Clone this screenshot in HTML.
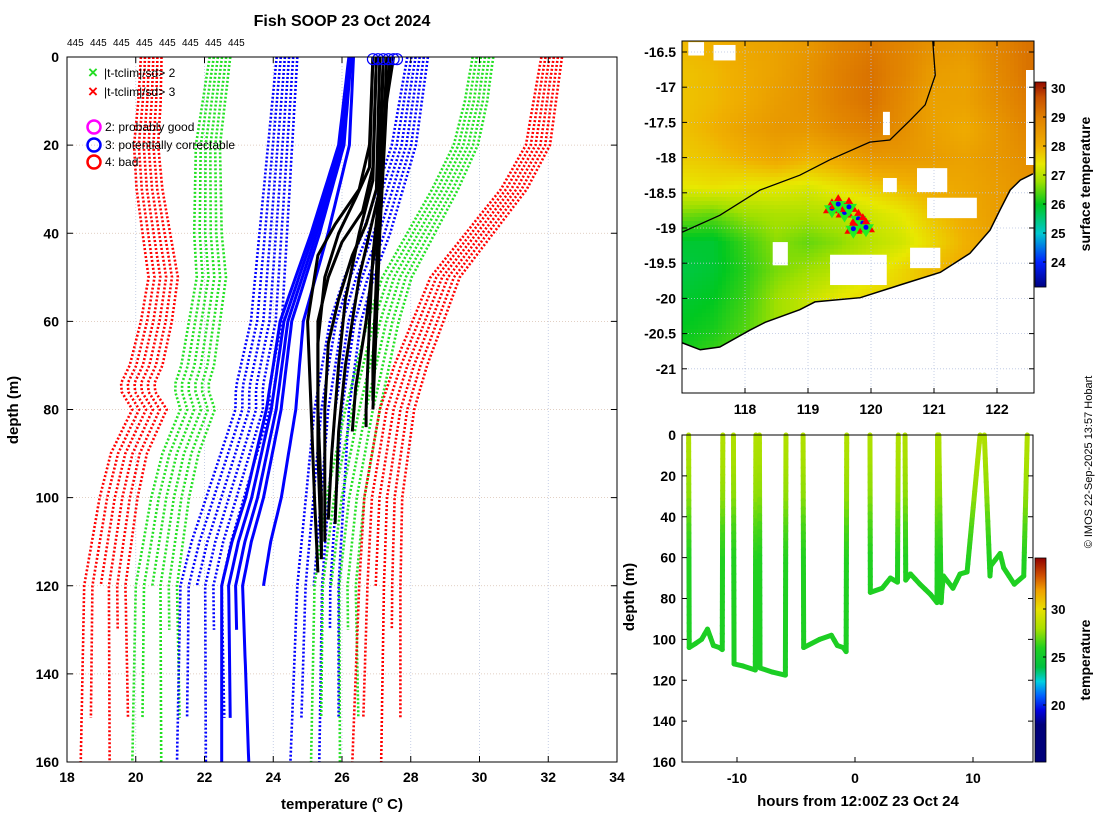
<!DOCTYPE html>
<html><head><meta charset="utf-8"><style>
body{margin:0;background:#fff;}
svg{display:block;font-family:"Liberation Sans","DejaVu Sans",sans-serif;}
</style></head><body>
<svg id="fig" width="1100" height="820" viewBox="0 0 1100 820" xmlns="http://www.w3.org/2000/svg">
<g id="left"></g>
<g id="map"></g>
<g id="track"></g>
<text x="342" y="26" text-anchor="middle" font-size="16" font-weight="bold">Fish SOOP 23 Oct 2024</text>
<text x="342" y="809" text-anchor="middle" font-size="15" font-weight="bold">temperature (<tspan font-size="10" dy="-6">o</tspan><tspan dy="6"> C)</tspan></text>
<text transform="translate(18,410) rotate(-90)" text-anchor="middle" font-size="15" font-weight="bold">depth (m)</text>
<text transform="translate(1092,462) rotate(-90)" text-anchor="middle" font-size="11">© IMOS 22-Sep-2025 13:57 Hobart</text>
<text transform="translate(1090,184) rotate(-90)" text-anchor="middle" font-size="14" font-weight="bold">surface temperature</text>
<text transform="translate(1090,660) rotate(-90)" text-anchor="middle" font-size="14" font-weight="bold">temperature</text>
<text transform="translate(634,597) rotate(-90)" text-anchor="middle" font-size="15" font-weight="bold">depth (m)</text>
<text x="858" y="806" text-anchor="middle" font-size="15" font-weight="bold">hours from 12:00Z 23 Oct 24</text>
</svg>
<script>
// ---------- data: profile chart ----------
const xTicks=[18,20,22,24,26,28,30,32,34];
const yTicks=[0,20,40,60,80,100,120,140,160];
const countLabels=["445","445","445","445","445","445","445","445"];
const redLoD=[0,10,20,30,40,50,60,70,75,80,90,100,110,120,160];
const redLoT=[20.45,20.4,20.3,20.4,20.6,20.8,20.6,20.3,20.0,20.4,19.8,19.5,19.3,19.1,19.1];
const greenLoD=[0,20,40,50,60,70,75,80,90,100,110,120,160];
const greenLoT=[22.45,22.1,22.1,22.2,22.0,21.8,21.6,21.8,21.3,21.0,20.8,20.6,20.6];
const blueLoD=[0,20,40,60,75,80,85,100,110,120,160];
const blueLoT=[24.4,24.2,24.0,23.8,23.4,23.4,23.2,22.6,22.2,21.9,21.9];
const blueHiD=[0,20,40,50,60,70,80,100,120,160];
const blueHiT=[28.2,27.8,27.0,26.5,26.1,25.9,25.7,25.5,25.3,25.2];
const greenHiD=[0,10,20,30,40,50,60,70,80,100,120,160];
const greenHiT=[30.1,29.9,29.6,29.0,28.3,27.6,27.2,26.9,26.6,26.1,25.8,25.8];
const redHiD=[0,10,20,30,40,50,60,70,80,90,100,120,160];
const redHiT=[32.1,31.9,31.7,31.0,30.0,29.0,28.5,28.0,27.6,27.4,27.2,27.1,27.0];
const bundleOffsets=[-0.3,-0.18,-0.06,0.06,0.18,0.3];
const bundleEnds=[160,150,120,160,130,150];
const blueSolidD=[0,20,40,60,80,100,110,120,160];
const blueSolidT=[26.2,25.9,25.1,24.2,23.8,23.2,22.8,22.5,22.5];
const blueSolidOff=[0,0.15,0.3,0.45,0.9];
const blueSolidEnds=[160,150,130,160,120];
const blackProfiles=[
 [[0,26.9],[20,26.8],[30,26.5],[38,25.8],[45,25.3],[60,25.0],[80,25.1],[100,25.2],[117,25.3]],
 [[0,27.0],[25,26.9],[35,26.6],[42,26.0],[50,25.6],[60,25.3],[80,25.3],[100,25.4],[114,25.4]],
 [[0,27.1],[30,27.0],[38,26.7],[45,26.3],[55,25.9],[65,25.6],[80,25.5],[100,25.5],[110,25.5]],
 [[0,27.2],[30,27.1],[40,26.8],[50,26.5],[60,26.3],[70,26.1],[85,25.9],[106,25.8]],
 [[0,27.3],[20,27.2],[40,27.0],[60,26.7],[75,26.4],[85,26.3]],
 [[0,27.4],[30,27.1],[45,26.9],[60,26.8],[80,26.7],[84,26.7]],
 [[0,27.0],[28,26.9],[40,26.5],[55,26.1],[70,25.9],[90,25.7],[105,25.6]],
 [[0,27.5],[10,27.3],[40,27.1],[60,27.0],[80,26.9]],
 [[0,27.2],[20,27.1],[50,27.0],[70,26.9],[78,26.9]],
 [[0,26.9],[25,26.8],[32,26.4],[40,25.9],[50,25.5],[65,25.3],[90,25.3],[112,25.4]]
];
const flagCircleT=[26.9,27.05,27.2,27.35,27.5,27.6];

// ---------- data: map ----------
const mapLons=[117.0,117.5,118.0,118.5,119.0,119.5,120.0,120.5,121.0,121.5,122.0,122.5];
const mapLats=[-16.4,-16.8,-17.2,-17.6,-18.0,-18.4,-18.8,-19.2,-19.6,-20.0,-20.4,-20.8,-21.2];
const sst=[
[27.9,28.0,28.2,28.3,28.5,28.9,29.1,28.9,28.6,28.5,28.9,29.2],
[27.8,27.9,28.1,28.3,28.6,29.0,29.2,28.9,28.4,28.3,28.8,29.2],
[27.8,27.9,28.1,28.4,28.6,29.0,29.2,28.8,28.3,28.3,28.7,29.1],
[27.8,28.0,28.3,28.5,28.5,28.8,29.0,28.7,28.3,28.1,28.5,28.9],
[27.7,27.8,28.0,28.2,28.0,28.2,28.5,28.5,28.4,28.3,28.5,28.7],
[27.4,27.5,27.4,27.4,27.3,27.5,27.7,27.9,28.1,28.2,28.4,28.6],
[26.6,26.5,26.8,26.9,26.9,27.0,27.2,27.4,27.8,28.1,28.4,28.6],
[25.9,25.9,26.3,26.7,26.5,26.7,27.0,27.2,27.6,28.0,28.3,28.5],
[25.8,25.9,26.2,26.6,26.8,27.0,27.3,27.6,27.9,28.1,28.3,28.5],
[25.9,26.0,26.3,26.8,27.1,27.4,27.6,27.7,27.9,28.1,28.3,28.5],
[26.0,26.1,26.4,26.8,27.1,27.3,27.5,27.7,27.9,28.1,28.3,28.5],
[26.1,26.3,26.5,26.8,27.1,27.3,27.5,27.7,27.9,28.1,28.3,28.5],
[26.1,26.3,26.5,26.8,27.1,27.3,27.5,27.7,27.9,28.1,28.3,28.5]];
const coastLon=[117.0,117.29,117.6,118.08,118.32,118.87,119.11,119.83,120.46,121.1,121.57,121.89,122.05,122.21,122.37,122.57];
const coastLat=[-20.63,-20.73,-20.69,-20.45,-20.34,-20.16,-20.05,-19.99,-19.81,-19.63,-19.36,-19.03,-18.74,-18.46,-18.32,-18.23];
const bathLon=[117.0,117.6,118.24,118.87,119.35,119.98,120.3,120.62,120.86,121.02,120.98];
const bathLat=[-19.06,-18.82,-18.46,-18.25,-18.03,-17.78,-17.75,-17.47,-17.25,-16.83,-16.34];
const cloudLon0=[120.19,120.73,120.89,120.19,118.44,119.35,120.62,117.1,117.5];
const cloudLon1=[120.30,121.21,121.68,120.41,118.68,120.25,121.10,117.35,117.85];
const cloudLat0=[-17.35,-18.15,-18.57,-18.29,-19.20,-19.38,-19.28,-16.36,-16.40];
const cloudLat1=[-17.68,-18.49,-18.86,-18.49,-19.53,-19.81,-19.57,-16.55,-16.62];
const stnLon=[119.38,119.48,119.58,119.65,119.8,119.87,119.92,119.72];
const stnLat=[-18.72,-18.66,-18.78,-18.70,-18.87,-18.93,-18.99,-19.01];
const mapXTicks=[118,119,120,121,122];
const mapYTicks=[-16.5,-17,-17.5,-18,-18.5,-19,-19.5,-20,-20.5,-21];
const sstCbTicks=[24,25,26,27,28,29,30];

// ---------- data: depth track ----------
const trackHours=[-14.1,-14.05,-13.5,-13.0,-12.5,-12.0,-11.5,-11.25,-11.2,
 -10.3,-10.25,-9.5,-8.45,-8.4,-8.1,-8.05,-7.0,-5.9,-5.85,
 -4.4,-4.35,-3.0,-2.0,-1.5,-1.0,-0.75,-0.7,
 1.27,1.3,2.3,3.0,3.6,3.67,
 4.24,4.3,4.7,5.5,6.4,6.95,7.0,7.05,7.1,7.3,7.35,7.5,8.3,8.9,9.5,10.6,10.96,
 11.44,11.5,12.3,12.6,13.5,14.3,14.6];
const trackDepths=[0,104,102,100,95,103,104,105,0,
 0,112,113,115,0,0,114,116,117.5,0,
 0,104,100,98,103,104,106,0,
 0,77,75,70,72,0,
 0,71,68,73,78,82,0,22,0,82,77,69,75,68,67,0,
 0,69,64,58,65,73,69,0];
const trackCbTicks=[20,25,30];
const trackXTicks=[-10,0,10];

// ---------- helpers ----------
const NS='http://www.w3.org/2000/svg';
function mk(tag,attrs,parent){const e=document.createElementNS(NS,tag);for(const k in attrs)e.setAttribute(k,attrs[k]);parent.appendChild(e);return e;}
function interp(ds,ts,d){if(d<=ds[0])return ts[0];for(let i=1;i<ds.length;i++){if(d<=ds[i]){const f=(d-ds[i-1])/(ds[i]-ds[i-1]);return ts[i-1]+f*(ts[i]-ts[i-1]);}}return ts[ts.length-1];}
function hex(c){return [parseInt(c.slice(1,3),16),parseInt(c.slice(3,5),16),parseInt(c.slice(5,7),16)];}
function cmap(stops,v){if(v<=stops[0][0])return stops[0][1];for(let i=1;i<stops.length;i++){if(v<=stops[i][0]){const f=(v-stops[i-1][0])/(stops[i][0]-stops[i-1][0]);const a=hex(stops[i-1][1]),b=hex(stops[i][1]);return 'rgb('+a.map((x,j)=>Math.round(x+f*(b[j]-x))).join(',')+')';}}return stops[stops.length-1][1];}

// ---------- left chart ----------
const L=document.getElementById('left');
const X0=67,X1=617,Y0=57,Y1=762;
const xs=t=>X0+(t-18)/16*(X1-X0), ys=d=>Y0+d/160*(Y1-Y0);
xTicks.forEach(t=>{const l=mk('line',{x1:xs(t),x2:xs(t),y1:Y0,y2:Y1,stroke:'#b8c4e0','stroke-width':0.8,'stroke-dasharray':'1,2'},L);
});
yTicks.forEach(d=>{const l=mk('line',{x1:X0,x2:X1,y1:ys(d),y2:ys(d),stroke:'#d8c0b0','stroke-width':0.8,'stroke-dasharray':'1,2'},L);
});
function drawBundle(D,T,color,name){
 bundleOffsets.forEach((o,i)=>{const end=bundleEnds[i];const pts=[];
  for(let d=0;d<=end;d+=2){pts.push(xs(interp(D,T,d)+o*(1+d/120)).toFixed(1)+','+ys(d).toFixed(1));}
  const p=mk('polyline',{points:pts.join(' '),fill:'none',stroke:color,'stroke-width':2.6,'stroke-dasharray':'2,2'},L);
  });
}
drawBundle(redLoD,redLoT,'#ff0000','clim-minus-3sd-line');
drawBundle(greenLoD,greenLoT,'#22e022','clim-minus-2sd-line');
drawBundle(blueLoD,blueLoT,'#0000ff','clim-minus-1sd-line');
drawBundle(blueHiD,blueHiT,'#0000ff','clim-plus-1sd-line');
drawBundle(greenHiD,greenHiT,'#22e022','clim-plus-2sd-line');
drawBundle(redHiD,redHiT,'#ff0000','clim-plus-3sd-line');
blueSolidOff.forEach((o,i)=>{const pts=[];for(let d=0;d<=blueSolidEnds[i];d+=2){pts.push(xs(interp(blueSolidD,blueSolidT,d)+o*(d/100)+o*0.15).toFixed(1)+','+ys(d).toFixed(1));}
 const p=mk('polyline',{points:pts.join(' '),fill:'none',stroke:'#0000ff','stroke-width':3},L);
 });
blackProfiles.forEach(pr=>{const p=mk('polyline',{points:pr.map(q=>xs(q[1]).toFixed(1)+','+ys(q[0]).toFixed(1)).join(' '),fill:'none',stroke:'#000','stroke-width':3,'stroke-linejoin':'round'},L);
 });
flagCircleT.forEach(t=>{const c=mk('circle',{cx:xs(t),cy:ys(0.5),r:5.5,fill:'none',stroke:'#0000ff','stroke-width':1.2},L);
 });
mk('rect',{x:X0,y:Y0,width:X1-X0,height:Y1-Y0,fill:'none',stroke:'#000','stroke-width':1},L);
xTicks.forEach(t=>{mk('line',{x1:xs(t),x2:xs(t),y1:Y1,y2:Y1-6,stroke:'#000'},L);mk('line',{x1:xs(t),x2:xs(t),y1:Y0,y2:Y0+6,stroke:'#000'},L);
 const tx=mk('text',{x:xs(t),y:Y1+20,'text-anchor':'middle','font-size':14,'font-weight':'bold'},L);tx.textContent=t;
 });
yTicks.forEach(d=>{mk('line',{x1:X0,x2:X0+6,y1:ys(d),y2:ys(d),stroke:'#000'},L);mk('line',{x1:X1,x2:X1-6,y1:ys(d),y2:ys(d),stroke:'#000'},L);
 const tx=mk('text',{x:X0-8,y:ys(d)+5,'text-anchor':'end','font-size':14,'font-weight':'bold'},L);tx.textContent=d;
 });
countLabels.forEach((s,i)=>{const tx=mk('text',{x:67+i*23,y:46,'font-size':10},L);tx.textContent=s;
 });
const lg=mk('g',{},L);
[['×','#22dd22','|t-tclim|/sd> 2',73],['×','#ff0000','|t-tclim|/sd> 3',92]].forEach(e=>{
 const m=mk('text',{x:88,y:e[3]+5,'font-size':17,'font-weight':'bold',fill:e[1]},lg);m.textContent=e[0];
 const t=mk('text',{x:104,y:e[3]+4,'font-size':12},lg);t.textContent=e[2];});
[['#ff00ff','2: probably good',127],['#0000ff','3: potentially correctable',145],['#ff0000','4: bad',162]].forEach(e=>{
 mk('circle',{cx:94,cy:e[2],r:6.5,fill:'none',stroke:e[0],'stroke-width':2.5},lg);
 const t=mk('text',{x:105,y:e[2]+4,'font-size':12},lg);t.textContent=e[1];});

// ---------- map ----------
const M=document.getElementById('map');
const MX0=682,MX1=1034,MY0=41,MY1=393;
const mx=lon=>745+(lon-118)*63, my=lat=>52+(-16.5-lat)*70.4;
const sstStops=[[23.1,'#00007a'],[24,'#0020ff'],[25,'#00c8d0'],[26,'#00c820'],[26.8,'#a0e000'],[27.4,'#e8e800'],[28,'#f0b000'],[29,'#e08000'],[29.7,'#c85000'],[30.3,'#8a0000']];
function sstAt(lon,lat){const fi=Math.max(0,Math.min(mapLons.length-1.001,(lon-mapLons[0])/0.5));const fj=Math.max(0,Math.min(mapLats.length-1.001,(mapLats[0]-lat)/0.4));
 const i=Math.floor(fi),j=Math.floor(fj),a=fi-i,b=fj-j;return sst[j][i]*(1-a)*(1-b)+sst[j][i+1]*a*(1-b)+sst[j+1][i]*(1-a)*b+sst[j+1][i+1]*a*b;}
const cell=4;
for(let py=MY0;py<MY1;py+=cell){for(let px=MX0;px<MX1;px+=cell){
 const lon=118+(px+cell/2-745)/63, lat=-16.5-(py+cell/2-52)/70.4;
 const r=mk('rect',{x:px,y:py,width:cell+0.3,height:cell+0.3,fill:cmap(sstStops,sstAt(lon,lat))},M);
 }}
cloudLon0.forEach((l,i)=>{const r=mk('rect',{x:mx(l),y:my(cloudLat0[i]),width:mx(cloudLon1[i])-mx(l),height:my(cloudLat1[i])-my(cloudLat0[i]),fill:'#fff'},M);
 });
let landPts=coastLon.map((l,i)=>mx(l)+','+my(coastLat[i]));landPts.push(MX1+','+my(coastLat[coastLat.length-1]),MX1+','+MY1,MX0+','+MY1);
const land=mk('polygon',{points:landPts.join(' '),fill:'#fff'},M);
mk('rect',{x:1026,y:70,width:8,height:95,fill:'#fff'},M);
mapXTicks.forEach(t=>{mk('line',{x1:mx(t),x2:mx(t),y1:MY0,y2:MY1,stroke:'#b8c4e0','stroke-width':0.8,'stroke-dasharray':'1,2'},M);});
mapYTicks.forEach(t=>{mk('line',{x1:MX0,x2:MX1,y1:my(t),y2:my(t),stroke:'#b8c4e0','stroke-width':0.8,'stroke-dasharray':'1,2'},M);});
const coast=mk('polyline',{points:coastLon.map((l,i)=>mx(l)+','+my(coastLat[i])).join(' '),fill:'none',stroke:'#000','stroke-width':1.5},M);

const bath=mk('polyline',{points:bathLon.map((l,i)=>mx(l)+','+my(bathLat[i])).join(' '),fill:'none',stroke:'#000','stroke-width':1.3},M);

stnLon.forEach((l,i)=>{const x=mx(l),y=my(stnLat[i]);
 const t1=mk('polygon',{points:`${x},${y-10} ${x-9},${y+5} ${x+9},${y+5}`,fill:'#ff0000'},M);
 const t2=mk('polygon',{points:`${x-8},${y-3} ${x+8},${y-3} ${x},${y+10}`,fill:'#22ee22'},M);
 mk('circle',{cx:x,cy:y,r:2.5,fill:'#0000ff'},M);
 });
mk('rect',{x:MX0,y:MY0,width:MX1-MX0,height:MY1-MY0,fill:'none',stroke:'#000'},M);
mapXTicks.forEach(t=>{mk('line',{x1:mx(t),x2:mx(t),y1:MY1,y2:MY1-5,stroke:'#000'},M);mk('line',{x1:mx(t),x2:mx(t),y1:MY0,y2:MY0+5,stroke:'#000'},M);
 const tx=mk('text',{x:mx(t),y:MY1+21,'text-anchor':'middle','font-size':14,'font-weight':'bold'},M);tx.textContent=t;
 });
mapYTicks.forEach(t=>{mk('line',{x1:MX0,x2:MX0+5,y1:my(t),y2:my(t),stroke:'#000'},M);mk('line',{x1:MX1,x2:MX1-5,y1:my(t),y2:my(t),stroke:'#000'},M);
 const tx=mk('text',{x:MX0-6,y:my(t)+5,'text-anchor':'end','font-size':14,'font-weight':'bold'},M);tx.textContent=t;
 });
const CB0=82,CB1=287,cby=v=>88+(30-v)*29;
for(let y=CB0;y<CB1;y+=1){mk('rect',{x:1035,y:y,width:11,height:1.2,fill:cmap(sstStops,30-(y-88)/29)},M);}
mk('rect',{x:1035,y:CB0,width:11,height:CB1-CB0,fill:'none',stroke:'#000','stroke-width':0.8},M);
sstCbTicks.forEach(t=>{mk('line',{x1:1043,x2:1046,y1:cby(t),y2:cby(t),stroke:'#000'},M);
 const tx=mk('text',{x:1051,y:cby(t)+5,'font-size':13,'font-weight':'bold'},M);tx.textContent=t;
 });

// ---------- depth track ----------
const T=document.getElementById('track');
const TX0=682,TX1=1033,TY0=435,TY1=762;
const tx=h=>855+h*11.8, ty=d=>TY0+d*(TY1-TY0)/160;
const trackStops=[[18,'#00007a'],[19.5,'#0000e0'],[21,'#0060ff'],[22.5,'#00d0e0'],[24,'#00c040'],[26,'#20d020'],[28,'#a8e000'],[30,'#e8e000'],[32,'#f0a000'],[33.5,'#d05000'],[35.4,'#900000']];
const tempOfDepthD=[0,30,45,60,120], tempOfDepthT=[28.3,27.6,26.6,26.0,25.7];
for(let i=1;i<trackHours.length;i++){
 if(trackDepths[i]===0&&trackDepths[i-1]===0)continue;
 const n=Math.max(1,Math.ceil(Math.abs(trackDepths[i]-trackDepths[i-1])/4));
 for(let k=0;k<n;k++){const f0=k/n,f1=(k+1)/n;
  const h0=trackHours[i-1]+f0*(trackHours[i]-trackHours[i-1]),h1=trackHours[i-1]+f1*(trackHours[i]-trackHours[i-1]);
  const d0=trackDepths[i-1]+f0*(trackDepths[i]-trackDepths[i-1]),d1=trackDepths[i-1]+f1*(trackDepths[i]-trackDepths[i-1]);
  const s=mk('line',{x1:tx(h0),y1:ty(d0),x2:tx(h1),y2:ty(d1),stroke:cmap(trackStops,interp(tempOfDepthD,tempOfDepthT,(d0+d1)/2)),'stroke-width':5,'stroke-linecap':'round'},T);
  }}
mk('rect',{x:TX0,y:TY0,width:TX1-TX0,height:TY1-TY0,fill:'none',stroke:'#000'},T);
trackXTicks.forEach(t=>{mk('line',{x1:tx(t),x2:tx(t),y1:TY1,y2:TY1-5,stroke:'#000'},T);
 const e=mk('text',{x:tx(t),y:TY1+21,'text-anchor':'middle','font-size':14,'font-weight':'bold'},T);e.textContent=t;
 });
yTicks.forEach(d=>{mk('line',{x1:TX0,x2:TX0+5,y1:ty(d),y2:ty(d),stroke:'#000'},T);mk('line',{x1:TX1,x2:TX1-5,y1:ty(d),y2:ty(d),stroke:'#000'},T);
 const e=mk('text',{x:TX0-6,y:ty(d)+5,'text-anchor':'end','font-size':14,'font-weight':'bold'},T);e.textContent=d;
 });
const TB0=558,TB1=762,tby=v=>705-(v-20)*9.6;
for(let y=TB0;y<TB1;y+=1){mk('rect',{x:1035,y:y,width:11,height:1.2,fill:cmap(trackStops,20+(705-y)/9.6)},T);}
mk('rect',{x:1035,y:TB0,width:11,height:TB1-TB0,fill:'none',stroke:'#000','stroke-width':0.8},T);
trackCbTicks.forEach(t=>{mk('line',{x1:1043,x2:1046,y1:tby(t),y2:tby(t),stroke:'#000'},T);
 const e=mk('text',{x:1051,y:tby(t)+5,'font-size':13,'font-weight':'bold'},T);e.textContent=t;
 });
</script>
</body></html>
